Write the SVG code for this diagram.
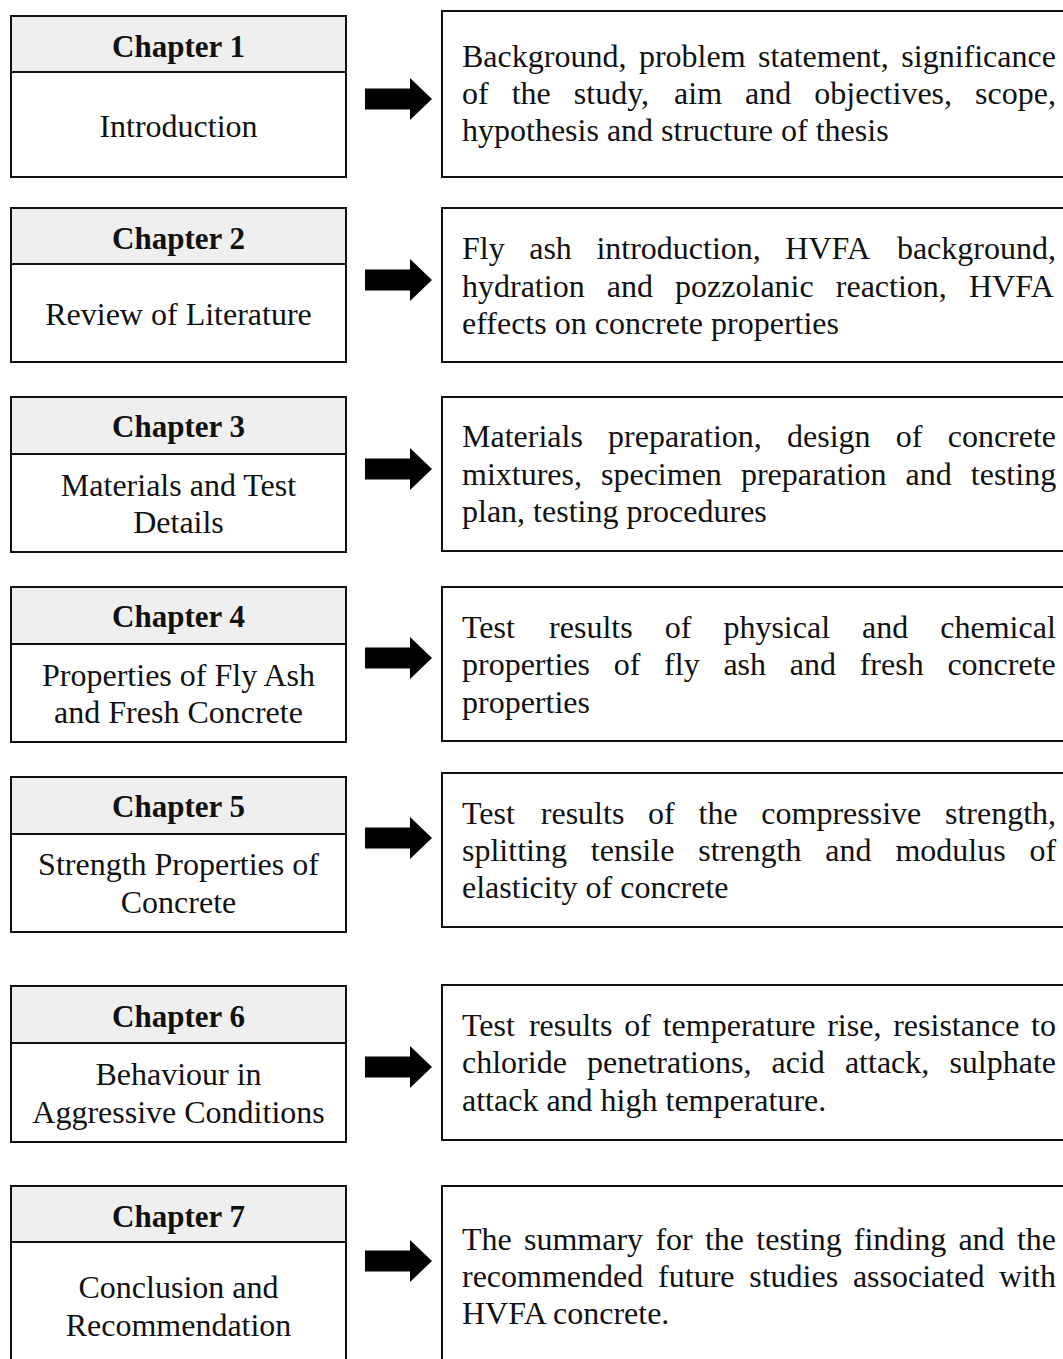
<svg xmlns="http://www.w3.org/2000/svg" width="1063" height="1359" viewBox="0 0 1063 1359">
<style>
.box{fill:#fff;stroke:#111;stroke-width:2}
.hdr{fill:#efefef;stroke:#111;stroke-width:2}
.h{font-family:"Liberation Serif","Times New Roman",serif;font-size:31px;font-weight:bold;fill:#111;text-anchor:middle}
.l{font-family:"Liberation Serif","Times New Roman",serif;font-size:32px;fill:#111;text-anchor:middle}
.t{font-family:"Liberation Serif","Times New Roman",serif;font-size:32px;fill:#111}
.arr{fill:#000}
</style>
<defs>
<path id="arrow" class="arr" d="M0,-10.5 H45 V-21 L67,0 L45,21 V10.5 H0 Z"/>
</defs>
<rect width="1063" height="1359" fill="#fff"/>

<g id="chapter1">
<rect class="box" x="11" y="16" width="335" height="161"/>
<rect class="hdr" x="11" y="16" width="335" height="56"/>
<text class="h" x="178.5" y="57">Chapter 1</text>
<text class="l" x="178.5" y="137">Introduction</text>
</g>
<g id="desc1">
<rect class="box" x="442" y="11" width="630" height="166"/>
<text class="t" y="67"><tspan x="462">Background,</tspan><tspan x="638.9">problem</tspan><tspan x="758.1">statement,</tspan><tspan x="901.3">significance</tspan></text>
<text class="t" y="104"><tspan x="462">of</tspan><tspan x="511.7">the</tspan><tspan x="573.8">study,</tspan><tspan x="674.1">aim</tspan><tspan x="745.1">and</tspan><tspan x="814.3">objectives,</tspan><tspan x="975.1">scope,</tspan></text>
<text class="t" x="462" y="141">hypothesis and structure of thesis</text>
</g>

<g id="chapter2">
<rect class="box" x="11" y="208" width="335" height="154"/>
<rect class="hdr" x="11" y="208" width="335" height="56"/>
<text class="h" x="178.5" y="249">Chapter 2</text>
<text class="l" x="178.5" y="325">Review of Literature</text>
</g>
<g id="desc2">
<rect class="box" x="442" y="208" width="630" height="154"/>
<text class="t" y="259"><tspan x="462">Fly</tspan><tspan x="529.2">ash</tspan><tspan x="596.4">introduction,</tspan><tspan x="785.3">HVFA</tspan><tspan x="896.9">background,</tspan></text>
<text class="t" y="297"><tspan x="462">hydration</tspan><tspan x="606.8">and</tspan><tspan x="675.1">pozzolanic</tspan><tspan x="835.8">reaction,</tspan><tspan x="969">HVFA</tspan></text>
<text class="t" x="462" y="334">effects on concrete properties</text>
</g>

<g id="chapter3">
<rect class="box" x="11" y="397" width="335" height="155"/>
<rect class="hdr" x="11" y="397" width="335" height="57"/>
<text class="h" x="178.5" y="437">Chapter 3</text>
<text class="l" x="178.5" y="496">Materials and Test</text>
<text class="l" x="178.5" y="533">Details</text>
</g>
<g id="desc3">
<rect class="box" x="442" y="397" width="630" height="154"/>
<text class="t" y="447"><tspan x="462">Materials</tspan><tspan x="608.1">preparation,</tspan><tspan x="787">design</tspan><tspan x="895.8">of</tspan><tspan x="947.7">concrete</tspan></text>
<text class="t" y="485"><tspan x="462">mixtures,</tspan><tspan x="601">specimen</tspan><tspan x="740.9">preparation</tspan><tspan x="905.6">and</tspan><tspan x="970.8">testing</tspan></text>
<text class="t" x="462" y="522">plan, testing procedures</text>
</g>

<g id="chapter4">
<rect class="box" x="11" y="587" width="335" height="155"/>
<rect class="hdr" x="11" y="587" width="335" height="57"/>
<text class="h" x="178.5" y="627">Chapter 4</text>
<text class="l" x="178.5" y="686">Properties of Fly Ash</text>
<text class="l" x="178.5" y="723">and Fresh Concrete</text>
</g>
<g id="desc4">
<rect class="box" x="442" y="587" width="630" height="154"/>
<text class="t" y="638"><tspan x="462">Test</tspan><tspan x="549.1">results</tspan><tspan x="664.7">of</tspan><tspan x="723.4">physical</tspan><tspan x="862.1">and</tspan><tspan x="940.3">chemical</tspan></text>
<text class="t" y="675"><tspan x="462">properties</tspan><tspan x="613.7">of</tspan><tspan x="664.1">fly</tspan><tspan x="723.4">ash</tspan><tspan x="789.8">and</tspan><tspan x="859.7">fresh</tspan><tspan x="947.4">concrete</tspan></text>
<text class="t" x="462" y="713">properties</text>
</g>

<g id="chapter5">
<rect class="box" x="11" y="777" width="335" height="155"/>
<rect class="hdr" x="11" y="777" width="335" height="57"/>
<text class="h" x="178.5" y="817">Chapter 5</text>
<text class="l" x="178.5" y="875">Strength Properties of</text>
<text class="l" x="178.5" y="913">Concrete</text>
</g>
<g id="desc5">
<rect class="box" x="442" y="773" width="630" height="154"/>
<text class="t" y="824"><tspan x="462">Test</tspan><tspan x="540.8">results</tspan><tspan x="648.1">of</tspan><tspan x="698.5">the</tspan><tspan x="761.3">compressive</tspan><tspan x="945">strength,</tspan></text>
<text class="t" y="861"><tspan x="462">splitting</tspan><tspan x="590.8">tensile</tspan><tspan x="698.3">strength</tspan><tspan x="825.3">and</tspan><tspan x="895.4">modulus</tspan><tspan x="1029.5">of</tspan></text>
<text class="t" x="462" y="898">elasticity of concrete</text>
</g>

<g id="chapter6">
<rect class="box" x="11" y="986" width="335" height="156"/>
<rect class="hdr" x="11" y="986" width="335" height="57"/>
<text class="h" x="178.5" y="1027">Chapter 6</text>
<text class="l" x="178.5" y="1085">Behaviour in</text>
<text class="l" x="178.5" y="1123">Aggressive Conditions</text>
</g>
<g id="desc6">
<rect class="box" x="442" y="985" width="630" height="155"/>
<text class="t" y="1036"><tspan x="462">Test</tspan><tspan x="528.9">results</tspan><tspan x="624.2">of</tspan><tspan x="662.7">temperature</tspan><tspan x="827.2">rise,</tspan><tspan x="893.2">resistance</tspan><tspan x="1031.1">to</tspan></text>
<text class="t" y="1073"><tspan x="462">chloride</tspan><tspan x="587">penetrations,</tspan><tspan x="771.5">acid</tspan><tspan x="844.9">attack,</tspan><tspan x="949.4">sulphate</tspan></text>
<text class="t" x="462" y="1111">attack and high temperature.</text>
</g>

<g id="chapter7">
<rect class="box" x="11" y="1186" width="335" height="185"/>
<rect class="hdr" x="11" y="1186" width="335" height="56"/>
<text class="h" x="178.5" y="1227">Chapter 7</text>
<text class="l" x="178.5" y="1298">Conclusion and</text>
<text class="l" x="178.5" y="1336">Recommendation</text>
</g>
<g id="desc7">
<rect class="box" x="442" y="1186" width="630" height="185"/>
<text class="t" y="1250"><tspan x="462">The</tspan><tspan x="524">summary</tspan><tspan x="655.4">for</tspan><tspan x="704.9">the</tspan><tspan x="756.3">testing</tspan><tspan x="853.8">finding</tspan><tspan x="958.4">and</tspan><tspan x="1016.9">the</tspan></text>
<text class="t" y="1287"><tspan x="462">recommended</tspan><tspan x="658.1">future</tspan><tspan x="749.2">studies</tspan><tspan x="852.9">associated</tspan><tspan x="999.1">with</tspan></text>
<text class="t" x="462" y="1324">HVFA concrete.</text>
</g>

<g id="connectors">
<use href="#arrow" x="365" y="99"/>
<use href="#arrow" x="365" y="280"/>
<use href="#arrow" x="365" y="469"/>
<use href="#arrow" x="365" y="658"/>
<use href="#arrow" x="365" y="838"/>
<use href="#arrow" x="365" y="1067"/>
<use href="#arrow" x="365" y="1261"/>
</g>
</svg>
